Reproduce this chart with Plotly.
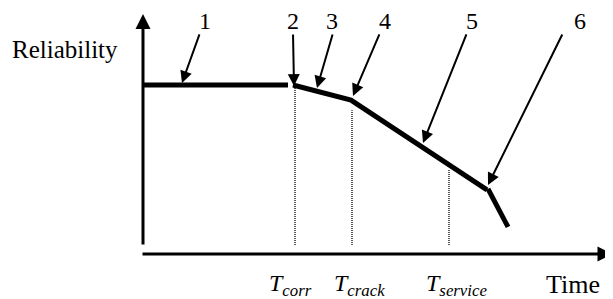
import plotly.graph_objects as go

# ---- data (time in arbitrary units, reliability normalised) ----
plateau_time = [0.0, 14.5]
plateau_rel = [1.0, 1.0]

degrade_time = [15.0, 20.8, 34.4]
degrade_rel = [1.0, 0.911, 0.379]

failure_time = [34.5, 36.5]
failure_rel = [0.385, 0.160]

event_names = ["corr", "crack", "service"]
event_times = [15.2, 20.9, 30.6]
event_tops = [0.99, 0.85, 0.50]
event_base = 0.053

stage_labels = ["1", "2", "3", "4", "5", "6"]
stage_label_x = [6.2, 15.0, 18.9, 24.2, 32.9, 43.7]
stage_tail_x = [5.7, 15.0, 19.0, 23.7, 32.4, 42.0]
stage_tip_x = [3.9, 15.1, 17.4, 21.0, 28.0, 34.5]
stage_tip_y = [1.012, 0.994, 0.982, 0.935, 0.657, 0.408]

FONT = "Liberation Serif"

fig = go.Figure()

line_style = dict(color="black", width=5)
fig.add_trace(go.Scatter(x=plateau_time, y=plateau_rel, mode="lines", line=line_style, hoverinfo="skip"))
fig.add_trace(go.Scatter(x=degrade_time, y=degrade_rel, mode="lines", line=line_style, hoverinfo="skip"))
fig.add_trace(go.Scatter(x=failure_time, y=failure_rel, mode="lines", line=line_style, hoverinfo="skip"))

for t, top in zip(event_times, event_tops):
    fig.add_trace(go.Scatter(x=[t, t], y=[event_base, top], mode="lines",
                             line=dict(color="black", width=1.3, dash="1px,1px"), hoverinfo="skip"))

ann = []
# axes drawn as arrows
ann.append(dict(x=0, y=1.42, ax=0, ay=0.047, xref="x", yref="y", axref="x", ayref="y",
                text="", showarrow=True, arrowhead=2, arrowwidth=3, arrowsize=1, arrowcolor="black"))
ann.append(dict(x=46.95, y=0, ax=-0.2, ay=0, xref="x", yref="y", axref="x", ayref="y",
                text="", showarrow=True, arrowhead=2, arrowwidth=3, arrowsize=1, arrowcolor="black"))

label_y = 1.379
tail_y = 1.308
for lab, lx, tx, px, py in zip(stage_labels, stage_label_x, stage_tail_x, stage_tip_x, stage_tip_y):
    ann.append(dict(x=px, y=py, ax=tx, ay=tail_y, xref="x", yref="y", axref="x", ayref="y",
                    text="", showarrow=True, arrowhead=2, arrowwidth=2, arrowsize=1.2, arrowcolor="black"))
    ann.append(dict(x=lx, y=label_y, xref="x", yref="y", text=lab, showarrow=False,
                    font=dict(family=FONT, size=24, color="black"), xanchor="center", yanchor="middle"))

ann.append(dict(x=-7.8, y=1.213, xref="x", yref="y", text="Reliability", showarrow=False,
                font=dict(family=FONT, size=25, color="black"), xanchor="center", yanchor="middle"))
ann.append(dict(x=43.0, y=-0.183, xref="x", yref="y", text="Time", showarrow=False,
                font=dict(family=FONT, size=26, color="black"), xanchor="center", yanchor="middle"))

event_label_x = [14.7, 21.6, 31.3]
for name, lx in zip(event_names, event_label_x):
    ann.append(dict(x=lx, y=-0.183, xref="x", yref="y",
                    text="<i>T</i><sub><i>%s</i></sub>" % name, showarrow=False,
                    font=dict(family=FONT, size=24, color="black"), xanchor="center", yanchor="middle"))

fig.update_layout(
    width=605, height=291,
    margin=dict(l=0, r=0, t=0, b=0),
    paper_bgcolor="white", plot_bgcolor="white",
    showlegend=False,
    font=dict(family=FONT),
    xaxis=dict(range=[-13.5, 47.0], visible=False, fixedrange=True),
    yaxis=dict(range=[-0.2663, 1.4556], visible=False, fixedrange=True),
    annotations=ann,
)

fig.write_html("out.html")
